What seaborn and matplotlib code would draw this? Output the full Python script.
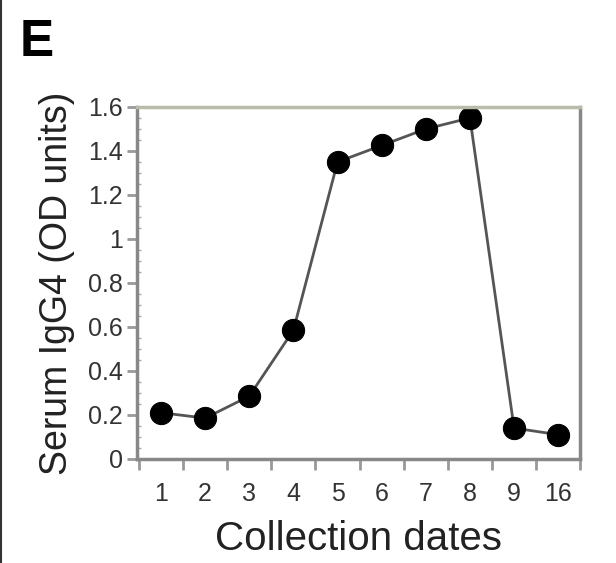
import matplotlib
matplotlib.use("Agg")
import matplotlib.pyplot as plt
import seaborn as sns
import pandas as pd
import numpy as np
from matplotlib.ticker import MultipleLocator, FixedLocator
from matplotlib.lines import Line2D

# values
dates = ["1", "2", "3", "4", "5", "6", "7", "8", "9", "16"]
igg4 = [0.21, 0.185, 0.285, 0.585, 1.35, 1.425, 1.50, 1.55, 0.14, 0.11]
y_ticks = [0, 0.2, 0.4, 0.6, 0.8, 1, 1.2, 1.4, 1.6]
y_labels = ["0", "0.2", "0.4", "0.6", "0.8", "1", "1.2", "1.4", "1.6"]

df = pd.DataFrame({"Collection dates": dates, "Serum IgG4 (OD units)": igg4})

sns.set_style("white")
plt.rcParams['font.family'] = ['Liberation Sans', 'DejaVu Sans']

fig = plt.figure(figsize=(6.16, 5.63), dpi=100)
ax = fig.add_axes([0.222, 0.185, 0.72, 0.625])

sns.lineplot(data=df, x="Collection dates", y="Serum IgG4 (OD units)", ax=ax,
             color="#555555", linewidth=2, marker="o", markersize=16,
             markerfacecolor="black", markeredgecolor="black", sort=False)

ax.set_xlim(-0.55, 9.5)
ax.set_ylim(0, 1.6)
ax.set_yticks(y_ticks)
ax.set_yticklabels(y_labels)
ax.yaxis.set_minor_locator(MultipleLocator(0.05))
ax.xaxis.set_major_locator(FixedLocator(np.arange(len(dates))))
ax.set_xticklabels(dates)
ax.xaxis.set_minor_locator(FixedLocator(np.arange(-0.5, len(dates), 1.0)))

ax.tick_params(bottom=True, left=True, which="both")
ax.tick_params(axis="both", which="major", labelsize=18, labelcolor="#333333")
ax.tick_params(axis="x", which="major", length=0, pad=17)
ax.tick_params(axis="y", which="major", length=7, width=2, color="#999999", direction="out", pad=3)
ax.tick_params(axis="y", which="minor", length=3, width=1, color="#aaaaaa", direction="in")
ax.tick_params(axis="x", which="minor", length=8, width=2, color="#999999", direction="out")

for side in ["left", "bottom", "right"]:
    ax.spines[side].set_color("#888888")
    ax.spines[side].set_linewidth(2.5)
ax.spines["top"].set_color("#bbbbaa")
ax.spines["top"].set_linewidth(2.5)

ax.set_xlabel("Collection dates", fontsize=29, color="#222222", labelpad=10)
ax.set_ylabel("Serum IgG4 (OD units)", fontsize=27, color="#222222", labelpad=9)

fig.text(0.032, 0.925, "E", fontsize=37, fontweight="bold", color="black", va="center", ha="left")
fig.add_artist(Line2D([0.002, 0.002], [0, 1], color="#333333", linewidth=1.5))

fig.savefig("out.png", dpi=100)
